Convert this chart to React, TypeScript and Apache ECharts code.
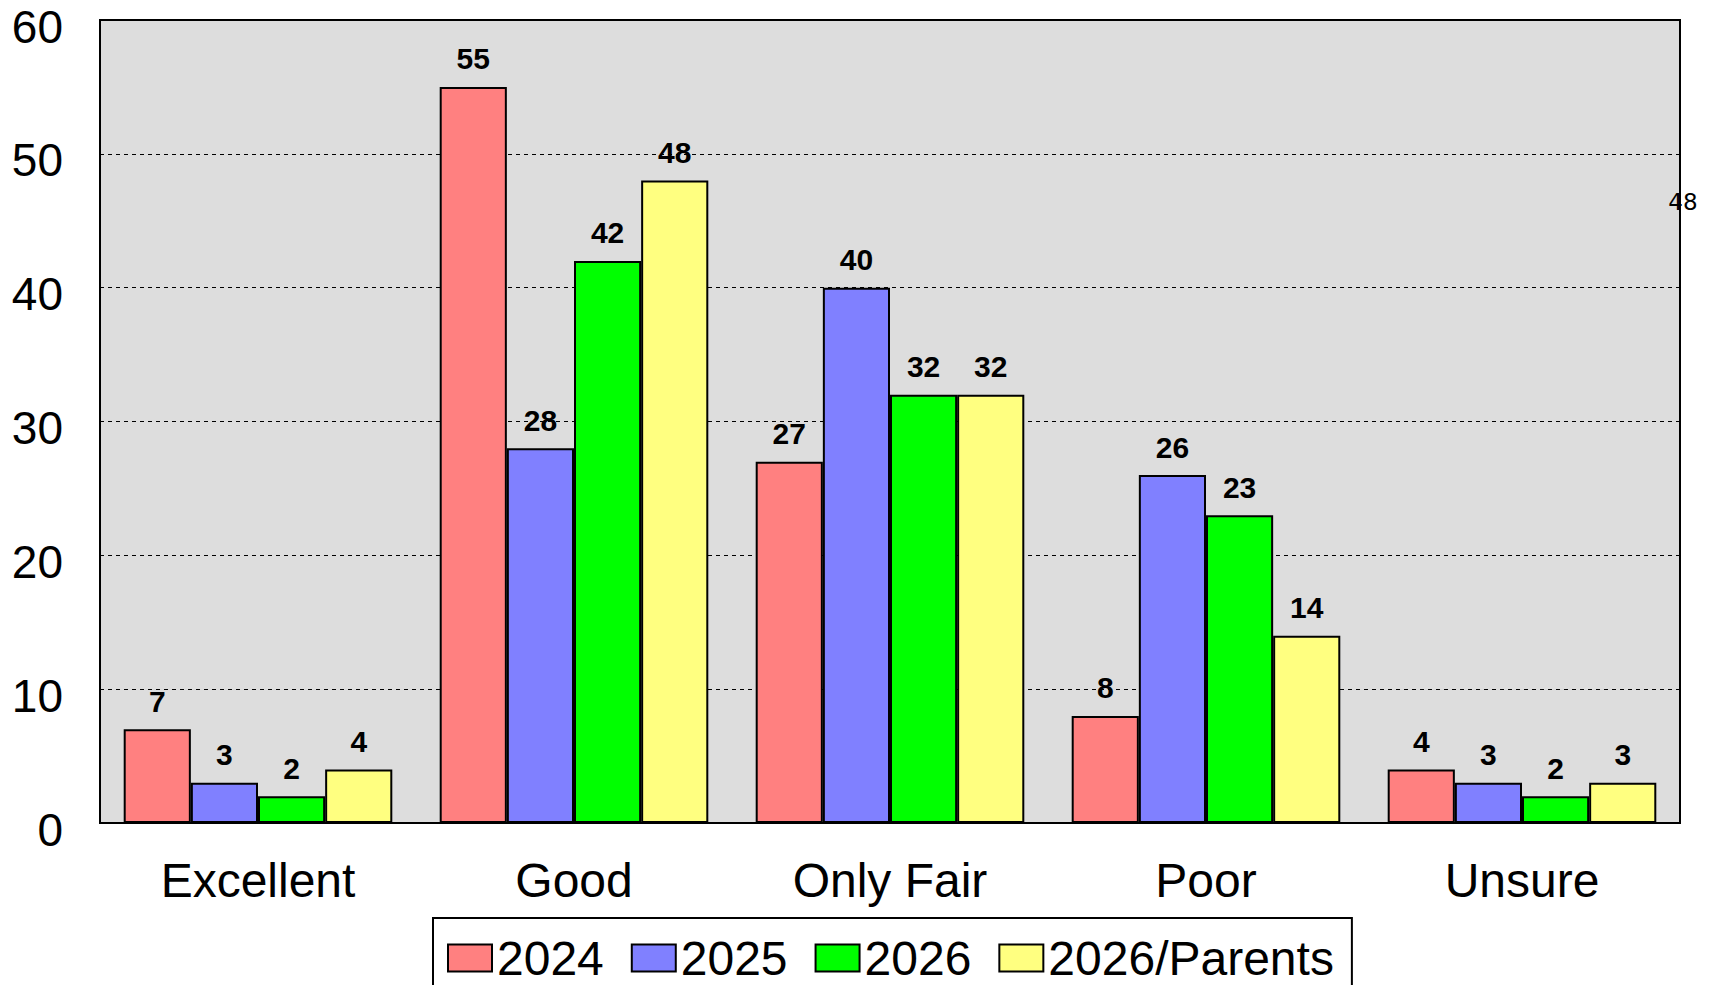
import React, { useEffect, useRef } from "react";
import * as echarts from "echarts";

const categories = ["Excellent", "Good", "Only Fair", "Poor", "Unsure"];
const seriesNames = ["2024", "2025", "2026", "2026/Parents"];
const values2024 = [7, 55, 27, 8, 4];
const values2025 = [3, 28, 40, 26, 3];
const values2026 = [2, 42, 32, 23, 2];
const values2026Parents = [4, 48, 32, 14, 3];
const seriesColors = ["#FF8080", "#8080FF", "#00FF00", "#FFFF80"];
const strayLabel = "48";

const FONT = "'Liberation Sans', Arial, Helvetica, sans-serif";

export default function App() {
  const ref = useRef<HTMLDivElement>(null);

  useEffect(() => {
    if (!ref.current) return;
    const chart = echarts.init(ref.current, undefined, { renderer: "svg" });
    const allValues = [values2024, values2025, values2026, values2026Parents];
    const option = {
      animation: false,
      backgroundColor: "#FFFFFF",
      grid: {
        left: 100,
        right: 35,
        top: 20,
        bottom: 162,
        show: true,
        backgroundColor: "#DDDDDD",
        borderColor: "#000000",
        borderWidth: 2,
        containLabel: false,
        outerBoundsMode: "none",
      },
      legend: {
        data: seriesNames,
        left: 433,
        top: 918,
        orient: "horizontal",
        backgroundColor: "#FFFFFF",
        borderColor: "#000000",
        borderWidth: 2,
        borderRadius: 0,
        padding: [16, 18, 16, 14],
        itemWidth: 44,
        itemHeight: 27,
        itemGap: 27,
        icon: "rect",
        textStyle: {
          fontFamily: FONT,
          fontSize: 48,
          color: "#000000",
        },
      },
      xAxis: {
        type: "category",
        data: categories,
        axisLine: { show: true, lineStyle: { color: "#000000", width: 2 } },
        axisTick: { show: false },
        axisLabel: {
          fontFamily: FONT,
          fontSize: 48,
          color: "#000000",
          margin: 33,
        },
        splitLine: { show: false },
      },
      yAxis: {
        type: "value",
        min: 0,
        max: 60,
        interval: 10,
        axisLine: { show: true, lineStyle: { color: "#000000", width: 2 } },
        axisTick: { show: false },
        axisLabel: {
          fontFamily: FONT,
          fontSize: 46,
          lineHeight: 13,
          verticalAlign: "top",
          color: "#000000",
          margin: 37,
        },
        splitLine: {
          show: true,
          lineStyle: { color: "#000000", width: 1, type: [4, 4] },
        },
      },
      series: seriesNames.map((name, i) => ({
        name,
        type: "bar",
        data: allValues[i],
        barGap: "0%",
        barCategoryGap: "15%",
        itemStyle: {
          color: seriesColors[i],
          borderColor: "#000000",
          borderWidth: 2,
        },
        label: {
          show: true,
          position: "top",
          distance: 13,
          fontFamily: FONT,
          fontWeight: "bold",
          fontSize: 30,
          color: "#000000",
        },
      })),
      graphic: [
        {
          type: "text",
          x: 1683,
          y: 202,
          z: 100,
          style: {
            text: strayLabel,
            fontFamily: "'DejaVu Sans', sans-serif",
            fontSize: 23,
            fill: "#000000",
            align: "center",
            verticalAlign: "middle",
          },
        },
      ],
    };
    chart.setOption(option as any);
    return () => chart.dispose();
  }, []);

  return (
    <div
      ref={ref}
      style={{ position: "fixed", left: 0, top: 0, width: 1715, height: 985 }}
    />
  );
}
